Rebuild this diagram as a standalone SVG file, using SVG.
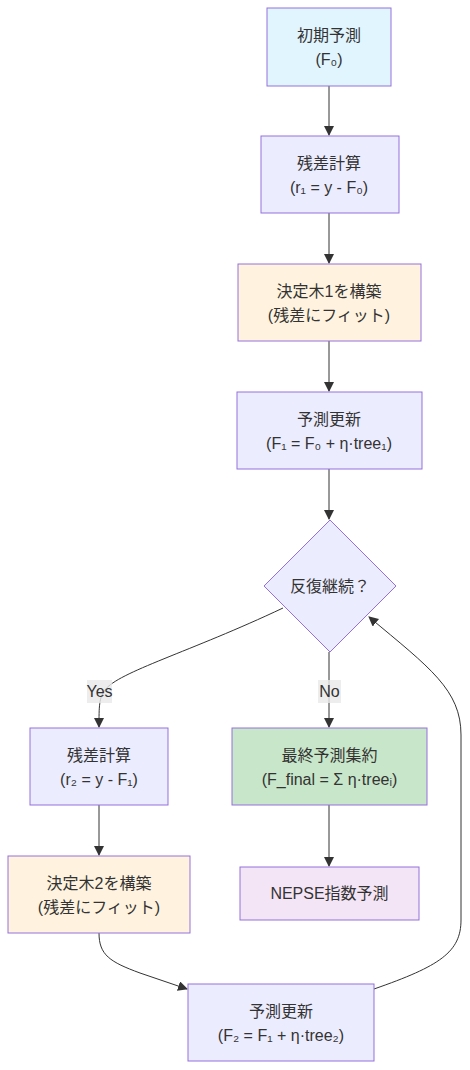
<svg xmlns="http://www.w3.org/2000/svg" width="470" height="1070" viewBox="0 0 470 1070">
<defs>
<marker id="arr" viewBox="0 0 10 10" refX="9" refY="5" markerWidth="10" markerHeight="10" markerUnits="userSpaceOnUse" orient="auto">
<path d="M0,0 L10,5 L0,10 z" fill="#333333"/>
</marker>
<style>
.n{stroke:#9370db;stroke-width:1}
.def{fill:#ececff}
.blue{fill:#e1f5fe}
.org{fill:#fff3e0}
.grn{fill:#c8e6c9}
.pur{fill:#f3e5f5}
text{font-family:"Liberation Sans","Noto Sans CJK JP",sans-serif;font-size:16px;fill:#333333;text-anchor:middle}
.e{fill:none;stroke:#333333;stroke-width:1;marker-end:url(#arr)}
.lb{fill:#e8e8e8;opacity:0.8}
</style>
</defs>
<rect width="470" height="1070" fill="#ffffff"/>
<g id="edges">
<path class="e" d="M329,86 L329,135"/>
<path class="e" d="M329,213 L329,263"/>
<path class="e" d="M329,341 L329,391"/>
<path class="e" d="M329,469 L329,519"/>
<path class="e" d="M283,608 C190,652 118,672 105,690 C99,698 99,706 99,727"/>
<path class="e" d="M329,652 L329,727"/>
<path class="e" d="M99,805 L99,855"/>
<path class="e" d="M329,805 L329,866"/>
<path class="e" d="M99,933 C99,955 110,962 140,973 L187,989"/>
<path class="e" d="M374,989 C440,966 461,952 461,920 L461,735 C461,690 430,668 369,617"/>
<rect class="lb" x="87" y="680" width="25" height="23"/>
<text x="99.5" y="697">Yes</text>
<rect class="lb" x="318" y="680" width="23" height="23"/>
<text x="329.5" y="697">No</text>
</g>
<g id="n1"><rect class="n blue" x="267" y="8" width="124" height="78"/><text x="329" y="41">初期予測</text><text x="329" y="65">(F₀)</text></g>
<g id="n2"><rect class="n def" x="261" y="136" width="138" height="77"/><text x="329" y="169">残差計算</text><text x="329" y="193">(r₁ = y - F₀)</text></g>
<g id="n3"><rect class="n org" x="238" y="264" width="183" height="77"/><text x="329" y="297">決定木1を構築</text><text x="329" y="321">(残差にフィット)</text></g>
<g id="n4"><rect class="n def" x="237" y="392" width="185" height="77"/><text x="329" y="425">予測更新</text><text x="329" y="449">(F₁ = F₀ + η·tree₁)</text></g>
<g id="n5"><polygon class="n def" points="330,520 396,586 330,652 264,586"/><text x="330" y="592">反復継続？</text></g>
<g id="n6"><rect class="n def" x="30" y="728" width="138" height="77"/><text x="99" y="761">残差計算</text><text x="99" y="785">(r₂ = y - F₁)</text></g>
<g id="n7"><rect class="n grn" x="232" y="728" width="195" height="77"/><text x="329.5" y="761">最終予測集約</text><text x="329.5" y="785">(F_final = Σ η·treeᵢ)</text></g>
<g id="n8"><rect class="n org" x="8" y="856" width="182" height="77"/><text x="99" y="889">決定木2を構築</text><text x="99" y="913">(残差にフィット)</text></g>
<g id="n9"><rect class="n pur" x="240" y="867" width="179" height="53"/><text x="329.5" y="899">NEPSE指数予測</text></g>
<g id="n10"><rect class="n def" x="188" y="984" width="186" height="77"/><text x="281" y="1017">予測更新</text><text x="281" y="1041">(F₂ = F₁ + η·tree₂)</text></g>
</svg>
